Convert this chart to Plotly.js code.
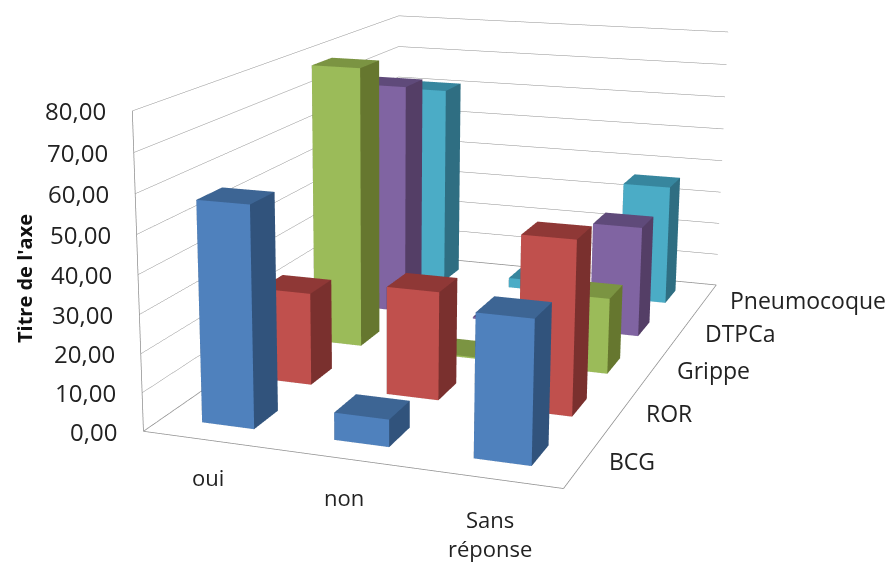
<!DOCTYPE html>
<html>
<head>
<meta charset="utf-8">
<script src="https://cdn.plot.ly/plotly-3.0.1.min.js"></script>
<style>
html,body{margin:0;padding:0;background:#fff;overflow:hidden;width:887px;height:562px}
#chart{position:absolute;left:-117px;top:-522px;width:1004px;height:1547px}
</style>
</head>
<body>
<div id="chart"></div>
<script>
// Vaccination survey answers by vaccine
const answers = ['oui', 'non', 'Sans<br>réponse'];
const vaccines = ['BCG', 'ROR', 'Grippe', 'DTPCa', 'Pneumocoque'];
const BCG = [57, 7, 36];
const ROR = [25, 29, 46];
const Grippe = [79, 0.4, 21];
const DTPCa = [68, 0.5, 32];
const Pneumocoque = [61, 3, 36];
const zTicks = [0, 10, 20, 30, 40, 50, 60, 70, 80];

const seriesValues = [BCG, ROR, Grippe, DTPCa, Pneumocoque];
const frontColors = ['#4F81BD', '#C0504D', '#9BBB59', '#8064A2', '#4BACC6'];
const sideColors = ['#31537C', '#7A302E', '#66772F', '#543E66', '#2F6E82'];
const topColors = ['#3D6594', '#8F3836', '#7B9442', '#5F4A7A', '#37869E'];
const barShare = 0.4;
const textColor = '#222';
const lineColor = '#8e8e8e';
const fontName = '"Open Sans", sans-serif';
// The plot is taller than the window so the long lens and raised view fit
const plotW = 1004, plotH = 1547, plotL = -117, plotT = -522;
// Pixel offsets of the category labels from their axis positions
const answerShift = [[-1, -37], [-1, -38], [1, -55]];
const vaccineShift = 23;

// One closed box per answer, with its own colour on each visible face
function seriesMesh(values, row) {
  const t = {type: 'mesh3d', x: [], y: [], z: [], i: [], j: [], k: [], facecolor: [],
    flatshading: true, hoverinfo: 'skip', showscale: false,
    lighting: {ambient: 1, diffuse: 0, specular: 0, fresnel: 0, roughness: 1},
    name: vaccines[row]};
  values.forEach((v, col) => {
    const x0 = col + 0.5 - barShare / 2, x1 = col + 0.5 + barShare / 2;
    const y0 = row + 0.5 - barShare / 2, y1 = row + 0.5 + barShare / 2;
    const b = t.x.length;
    [[x0,y0,0],[x1,y0,0],[x1,y1,0],[x0,y1,0],[x0,y0,v],[x1,y0,v],[x1,y1,v],[x0,y1,v]].forEach(p => {
      t.x.push(p[0]); t.y.push(p[1]); t.z.push(p[2]);
    });
    const quad = (a, c, d, e, color) => {
      t.i.push(b + a, b + a); t.j.push(b + c, b + d); t.k.push(b + d, b + e);
      t.facecolor.push(color, color);
    };
    quad(0, 1, 5, 4, frontColors[row]);
    quad(1, 2, 6, 5, sideColors[row]);
    quad(4, 5, 6, 7, topColors[row]);
    quad(2, 3, 7, 6, sideColors[row]);
    quad(3, 0, 4, 7, sideColors[row]);
    quad(0, 3, 2, 1, sideColors[row]);
  });
  return t;
}

const xMax = answers.length, yMax = vaccines.length, zMax = zTicks[zTicks.length - 1];

// Floor outline and the value axis
const frame = {type: 'scatter3d', mode: 'lines', hoverinfo: 'skip', showlegend: false,
  x: [0, xMax, xMax, 0, 0, 0],
  y: [0, 0, yMax, yMax, 0, 0],
  z: [0, 0, 0, 0, 0, zMax],
  line: {color: lineColor, width: 1.5}};

const hiddenAxis = {showgrid: false, zeroline: false, showticklabels: false, showline: false,
  showbackground: false, showspikes: false, ticks: '', title: {text: ''}};

const sceneNotes = [];
zTicks.forEach(v => sceneNotes.push({x: 0, y: 0, z: v, text: v.toFixed(2).replace('.', ','),
  showarrow: false, xanchor: 'right', xshift: -24, font: {family: fontName, size: 24, color: textColor}}));
answers.forEach((a, i) => sceneNotes.push({x: i + 0.5, y: 0, z: 0, text: a,
  showarrow: false, xanchor: 'center', yanchor: 'middle', xshift: answerShift[i][0], yshift: answerShift[i][1],
  font: {family: fontName, size: 22, color: textColor}}));
vaccines.forEach((a, i) => sceneNotes.push({x: xMax, y: i + 0.5, z: 0, text: a,
  showarrow: false, xanchor: 'left', yanchor: 'middle', xshift: vaccineShift, font: {family: fontName, size: 23, color: textColor}}));

const layout = {
  width: plotW, height: plotH, margin: {l: 0, r: 0, t: 0, b: 0},
  paper_bgcolor: '#fff', showlegend: false,
  annotations: [{xref: 'paper', yref: 'paper', x: (24 - plotL) / plotW, y: 1 - (279 - plotT) / plotH,
    xanchor: 'center', yanchor: 'middle', text: "Titre de l'axe", textangle: -90,
    showarrow: false, font: {family: fontName, size: 20, color: '#111', weight: 700}}],
  scene: {
    domain: {x: [0, 1], y: [0, 1]},
    aspectmode: 'manual',
    aspectratio: {x: 0.9287, y: 1.5845, z: 0.6957},
    camera: {projection: {type: 'perspective'}, up: {x: -0.0893, y: 0.2383, z: 0.9716},
      center: {x: -0.1761, y: -0.087, z: -0.0962}, eye: {x: 1.3439, y: -4.1427, z: 1.0381}},
    xaxis: Object.assign({range: [0, xMax]}, hiddenAxis),
    yaxis: Object.assign({range: [0, yMax]}, hiddenAxis),
    zaxis: Object.assign({}, hiddenAxis, {range: [0, zMax], tickvals: zTicks, showgrid: true, gridcolor: lineColor, gridwidth: 1}),
    annotations: sceneNotes
  }
};

const traces = seriesValues.map(seriesMesh).concat([frame]);
Plotly.newPlot('chart', traces, layout, {displayModeBar: false, responsive: false});
</script>
</body>
</html>
